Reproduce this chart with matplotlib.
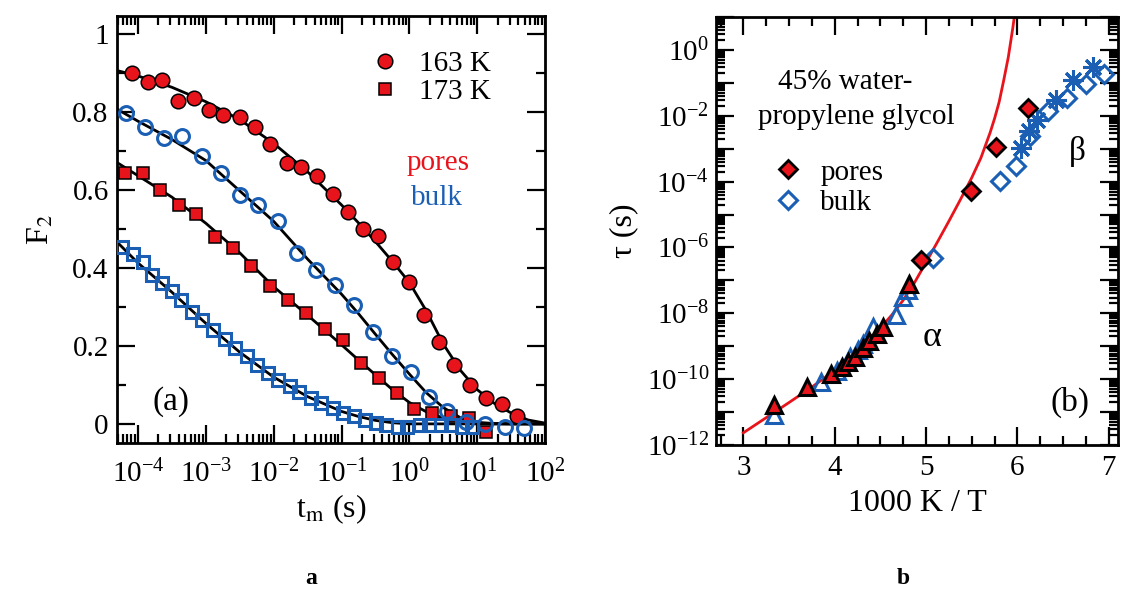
import numpy as np
import matplotlib.pyplot as plt
from matplotlib.ticker import (LogLocator, MultipleLocator, FixedLocator, FuncFormatter,
                               NullFormatter)

plt.rcParams['font.family'] = ['Liberation Serif', 'DejaVu Serif']
plt.rcParams['mathtext.fontset'] = 'stix'
plt.rcParams['axes.unicode_minus'] = False

RED = '#e8141c'
BLUE = '#1a5fb4'

# (a) F2 decays, x given as log10(t_m / s)
lt_163_pores = [-4.09, -3.86, -3.64, -3.41, -3.18, -2.96, -2.74, -2.50, -2.28, -2.05, -1.81, -1.59, -1.36,
                -1.13, -0.91, -0.68, -0.46, -0.245, 0.0, 0.22, 0.44, 0.66, 0.89, 1.13, 1.36, 1.59]
F_163_pores = [0.900, 0.878, 0.883, 0.830, 0.837, 0.806, 0.793, 0.787, 0.763, 0.718, 0.669, 0.660, 0.637,
               0.589, 0.545, 0.500, 0.482, 0.416, 0.363, 0.280, 0.211, 0.151, 0.100, 0.066, 0.051, 0.019]

lt_173_pores = [-4.19, -3.93, -3.67, -3.39, -3.14, -2.87, -2.60, -2.33, -2.06, -1.79, -1.52, -1.25, -0.98,
                -0.71, -0.44, -0.18, 0.07, 0.34, 0.61, 0.88, 1.13]
F_173_pores = [0.643, 0.643, 0.600, 0.562, 0.539, 0.479, 0.452, 0.404, 0.354, 0.318, 0.284, 0.243, 0.216,
               0.156, 0.117, 0.079, 0.038, 0.027, 0.019, 0.015, -0.022]

lt_163_bulk = [-4.18, -3.90, -3.62, -3.35, -3.06, -2.78, -2.50, -2.23, -1.94, -1.66, -1.38, -1.10, -0.82,
               -0.54, -0.25, 0.02, 0.29, 0.56, 0.84, 1.12, 1.41, 1.69]
F_163_bulk = [0.797, 0.763, 0.733, 0.739, 0.688, 0.643, 0.588, 0.562, 0.522, 0.439, 0.395, 0.357, 0.305,
              0.237, 0.174, 0.134, 0.070, 0.032, 0.006, 0.0, -0.007, -0.011]

lt_173_bulk = [-4.24, -4.08, -3.93, -3.80, -3.65, -3.50, -3.36, -3.21, -3.06, -2.89, -2.72, -2.57, -2.40,
               -2.25, -2.08, -1.94, -1.76, -1.62, -1.45, -1.30, -1.13, -0.98, -0.81, -0.66, -0.49, -0.34,
               -0.17, -0.03, 0.15, 0.29, 0.46, 0.61, 0.78, 0.93]
F_173_bulk = [0.455, 0.437, 0.415, 0.383, 0.361, 0.340, 0.318, 0.288, 0.267, 0.241, 0.217, 0.194, 0.173,
              0.152, 0.130, 0.113, 0.096, 0.083, 0.066, 0.053, 0.040, 0.027, 0.019, 0.010, 0.002, -0.003,
              -0.007, -0.007, -0.003, -0.003, -0.003, -0.003, -0.007, -0.007]

# fitted curves, sampled on a common log10(t) grid
lt_fit = [-4.31, -4.0, -3.5, -3.0, -2.5, -2.0, -1.5, -1.0, -0.75, -0.5, -0.25, 0.0,
          0.25, 0.5, 0.75, 1.0, 1.25, 1.5, 1.75, 2.0]
fit_163_pores = [0.907, 0.893, 0.864, 0.827, 0.781, 0.720, 0.647, 0.562, 0.516, 0.468, 0.417, 0.363,
                 0.290, 0.205, 0.138, 0.088, 0.053, 0.028, 0.010, 0.002]
fit_173_pores = [0.671, 0.637, 0.582, 0.515, 0.439, 0.352, 0.279, 0.203, 0.164, 0.126, 0.088, 0.055,
                 0.031, 0.015, 0.006, 0.002, 0.0, 0.0, 0.0, 0.0]
fit_163_bulk = [0.808, 0.777, 0.730, 0.676, 0.598, 0.520, 0.423, 0.333, 0.283, 0.230, 0.178, 0.128,
                0.080, 0.042, 0.016, 0.004, 0.001, 0.0, 0.0, 0.0]
fit_173_bulk = [0.467, 0.413, 0.338, 0.258, 0.184, 0.120, 0.070, 0.032, 0.019, 0.009, 0.003, 0.0,
                0.0, 0.0, 0.0, 0.0, 0.0, 0.0, 0.0, 0.0]

# (b) correlation times, x = 1000 K / T, y given as log10(tau / s)
invT_pores_nmr = [4.94, 5.49, 5.77, 6.12]
ltau_pores_nmr = [-6.37, -4.30, -2.95, -1.75]
invT_bulk_nmr = [5.08, 5.81, 5.98, 6.14, 6.33, 6.54, 6.75, 6.95]
ltau_bulk_nmr = [-6.32, -3.97, -3.52, -2.63, -1.87, -1.46, -1.05, -0.73]
invT_bulk_beta = [6.04, 6.13, 6.21, 6.42, 6.61, 6.83]
ltau_bulk_beta = [-2.98, -2.47, -2.12, -1.52, -0.92, -0.53]
invT_pores_ds = [3.33, 3.70, 3.96, 4.08, 4.15, 4.22, 4.31, 4.38, 4.46, 4.53, 4.81]
ltau_pores_ds = [-10.80, -10.25, -9.83, -9.62, -9.47, -9.32, -9.05, -8.85, -8.62, -8.42, -7.10]
invT_bulk_ds = [3.34, 3.85, 4.02, 4.17, 4.25, 4.31, 4.42, 4.67, 4.75, 4.80]
ltau_bulk_ds = [-11.10, -10.08, -9.75, -9.32, -9.12, -8.92, -8.42, -8.06, -7.51, -7.30]

# VFT curve
invT_vft = [3.00, 3.25, 3.50, 3.75, 4.00, 4.25, 4.50, 4.625, 4.75, 4.875, 5.00, 5.125, 5.25, 5.375,
            5.50, 5.60, 5.70, 5.75, 5.80, 5.85, 5.90, 5.95, 6.00]
ltau_vft = [-11.63, -11.17, -10.71, -10.24, -9.74, -9.14, -8.45, -8.05, -7.60, -7.06, -6.45, -5.83,
            -5.20, -4.55, -3.88, -3.28, -2.52, -2.08, -1.58, -0.92, -0.22, 0.68, 1.70]


def pw(a):
    return np.power(10.0, np.asarray(a))


fig = plt.figure(figsize=(11.39, 5.9), dpi=100)
ax1 = fig.add_axes([0.1027, 0.2492, 0.3758, 0.7237])
ax2 = fig.add_axes([0.6286, 0.2458, 0.3529, 0.7254])

for ax in (ax1, ax2):
    for s in ax.spines.values():
        s.set_linewidth(2)
    ax.tick_params(which='both', direction='in', top=True, right=True, width=1.6, labelsize=21)
    ax.tick_params(which='major', length=13)
    ax.tick_params(which='minor', length=6.5)

# ---- panel (a)
fit_kw = dict(color='black', lw=2, zorder=2)
ax1.plot(pw(lt_fit), fit_163_pores, **fit_kw)
ax1.plot(pw(lt_fit), fit_173_pores, **fit_kw)
ax1.plot(pw(lt_fit), fit_163_bulk, **fit_kw)
ax1.plot(pw(lt_fit), fit_173_bulk, **fit_kw)

c163, = ax1.plot(pw(lt_163_pores), F_163_pores, 'o', ms=10.5, mfc=RED, mec='black', mew=1.1, zorder=3)
s173, = ax1.plot(pw(lt_173_pores), F_173_pores, 's', ms=8.5, mfc=RED, mec='black', mew=1.1, zorder=3)
ax1.plot(pw(lt_163_bulk), F_163_bulk, 'o', ms=10, mfc='none', mec=BLUE, mew=2.2, zorder=3)
ax1.plot(pw(lt_173_bulk), F_173_bulk, 's', ms=8.5, mfc='none', mec=BLUE, mew=2.2, zorder=3)

ax1.set_xscale('log')
ax1.set_xlim(10 ** -4.31, 1e2)
ax1.set_ylim(-0.049, 1.047)
ax1.xaxis.set_major_locator(FixedLocator([1e-4, 1e-3, 1e-2, 1e-1, 1e0, 1e1, 1e2]))
ax1.xaxis.set_minor_locator(LogLocator(base=10, subs=np.arange(2, 10), numticks=20))
ax1.xaxis.set_minor_formatter(NullFormatter())
ax1.xaxis.set_major_formatter(FuncFormatter(
    lambda v, p: r'$\mathdefault{10^{%d}}$' % int(round(np.log10(v)))))
ax1.yaxis.set_major_locator(MultipleLocator(0.2))
ax1.yaxis.set_minor_locator(MultipleLocator(0.1))
ax1.yaxis.set_major_formatter(FuncFormatter(lambda v, p: '%g' % round(v, 1)))
ax1.tick_params(axis='x', which='major', pad=12)
ax1.tick_params(axis='y', which='major', pad=6)

ax1.set_xlabel(r't$_\mathrm{m}$ (s)', fontsize=23, labelpad=3)
ax1.set_ylabel(r'F$_2$', fontsize=23, labelpad=12)

ax1.legend([c163, s173], ['163 K', '173 K'], loc='upper left', bbox_to_anchor=(0.593, 0.918),
           frameon=False, fontsize=21, handlelength=1.0, handletextpad=0.65, labelspacing=0.05,
           borderpad=0, borderaxespad=0)
ax1.text(0.75, 0.655, 'pores', color=RED, fontsize=21, ha='center', va='center', transform=ax1.transAxes)
ax1.text(0.748, 0.573, 'bulk', color=BLUE, fontsize=21, ha='center', va='center', transform=ax1.transAxes)
ax1.text(0.126, 0.096, '(a)', fontsize=24, ha='center', va='center', transform=ax1.transAxes)

# ---- panel (b)
ax2.plot(invT_vft, pw(ltau_vft), color=RED, lw=2, zorder=2)
ax2.plot(invT_bulk_ds, pw(ltau_bulk_ds), '^', ms=11, mfc='none', mec=BLUE, mew=2.2, zorder=3)
ax2.plot(invT_pores_ds, pw(ltau_pores_ds), '^', ms=11, mfc=RED, mec='black', mew=2.2, zorder=4)
ax2.plot(invT_bulk_beta, pw(ltau_bulk_beta), marker=(8, 2, 0), ls='none', ms=15, mec=BLUE, mew=2.2,
         zorder=3)
dp, = ax2.plot(invT_pores_nmr, pw(ltau_pores_nmr), 'D', ms=9, mfc=RED, mec='black', mew=2, zorder=4)
db, = ax2.plot(invT_bulk_nmr, pw(ltau_bulk_nmr), 'D', ms=9, mfc='none', mec=BLUE, mew=2.2, zorder=3)

ax2.set_yscale('log')
ax2.set_xlim(2.7, 7.1)
ax2.set_ylim(1e-12, 1e1)
ax2.xaxis.set_major_locator(MultipleLocator(1))
ax2.xaxis.set_minor_locator(MultipleLocator(0.25))
ax2.yaxis.set_major_locator(LogLocator(base=10, numticks=30))
ax2.yaxis.set_minor_locator(LogLocator(base=10, subs=np.arange(2, 10), numticks=30))
ax2.yaxis.set_minor_formatter(NullFormatter())


def even_decades(v, pos):
    e = int(round(np.log10(v)))
    return r'$\mathdefault{10^{%d}}$' % e if e % 2 == 0 else ''


ax2.yaxis.set_major_formatter(FuncFormatter(even_decades))
ax2.tick_params(axis='x', which='major', pad=7)
ax2.tick_params(axis='y', which='major', pad=5)

ax2.set_xlabel('1000 K / T', fontsize=23, labelpad=6)
ax2.set_ylabel('τ (s)', fontsize=23, labelpad=6)

ax2.legend([dp, db], ['pores', 'bulk'], loc='upper left', bbox_to_anchor=(0.151, 0.668),
           frameon=False, fontsize=21, handlelength=0.8, handletextpad=0.7, labelspacing=0.15,
           borderpad=0, borderaxespad=0)
ax2.text(0.321, 0.848, '45% water-', fontsize=21, ha='center', va='center', transform=ax2.transAxes)
ax2.text(0.348, 0.766, 'propylene glycol', fontsize=21, ha='center', va='center', transform=ax2.transAxes)
ax2.text(0.900, 0.685, 'β', fontsize=24, ha='center', va='center', transform=ax2.transAxes)
ax2.text(0.537, 0.252, 'α', fontsize=26, ha='center', va='center', transform=ax2.transAxes)
ax2.text(0.881, 0.100, '(b)', fontsize=24, ha='center', va='center', transform=ax2.transAxes)

fig.text(311 / 1139, 1 - 578 / 590, 'a', fontsize=17, fontweight='bold', ha='center', va='center')
fig.text(903 / 1139, 1 - 579 / 590, 'b', fontsize=17, fontweight='bold', ha='center', va='center')

fig.savefig('out.png', dpi=100)
